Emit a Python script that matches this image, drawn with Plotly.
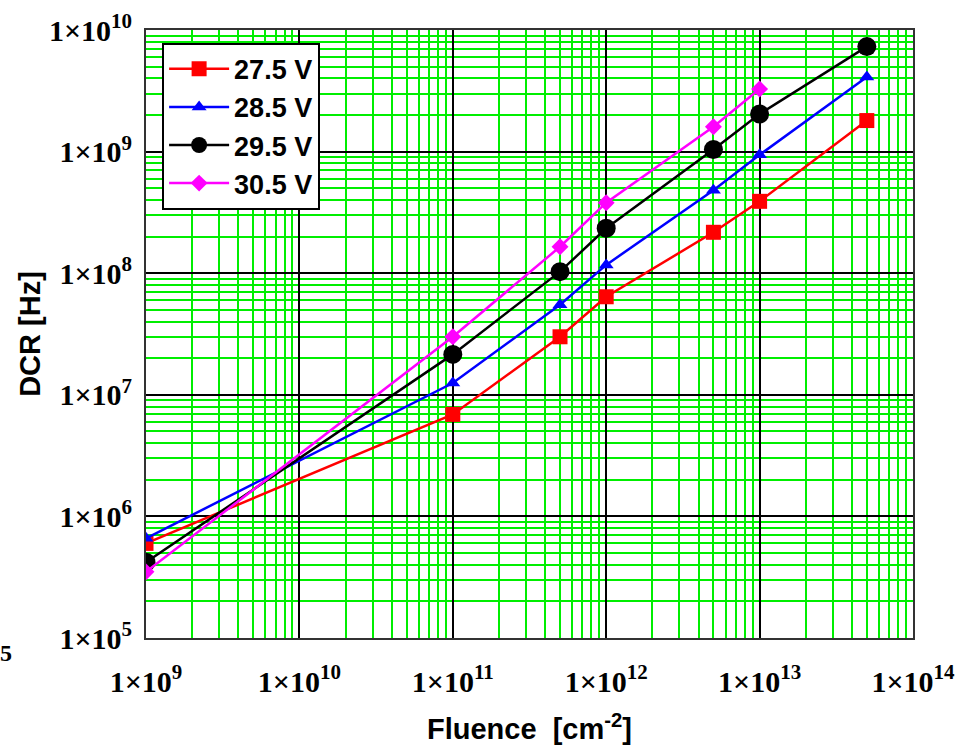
import plotly.graph_objects as go

# Fluence points [cm^-2]
fluence = [1e9, 1e11, 5e11, 1e12, 5e12, 1e13, 5e13]
fluence_305 = [1e9, 1e11, 5e11, 1e12, 5e12, 1e13]

# Dark count rate [Hz] per bias voltage
dcr_275 = [6.0e5, 6.9e6, 3.0e7, 6.4e7, 2.17e8, 3.9e8, 1.8e9]
dcr_285 = [6.6e5, 1.25e7, 5.5e7, 1.17e8, 4.8e8, 9.4e8, 4.1e9]
dcr_295 = [4.2e5, 2.15e7, 1.03e8, 2.34e8, 1.04e9, 2.04e9, 7.3e9]
dcr_305 = [3.5e5, 3.0e7, 1.65e8, 3.8e8, 1.6e9, 3.27e9]

x_exponents = [9, 10, 11, 12, 13, 14]
y_exponents = [5, 6, 7, 8, 9, 10]


def sci_label(e):
    return "1×10<sup>%d</sup>" % e


series = [
    ("27.5 V", fluence, dcr_275, "#ff0000", "square", 15),
    ("28.5 V", fluence, dcr_285, "#0000ff", "triangle-up", 13),
    ("29.5 V", fluence, dcr_295, "#000000", "circle", 19),
    ("30.5 V", fluence_305, dcr_305, "#ff00ff", "diamond", 13),
]

fig = go.Figure()
for name, xs, ys, color, symbol, size in series:
    fig.add_trace(go.Scatter(
        x=xs, y=ys, name=name, mode="lines+markers", legendgroup=name,
        line=dict(color=color, width=2.5),
        marker=dict(color=color, symbol=symbol, size=size),
    ))

tick_font = dict(family="Liberation Serif", size=30, color="black", weight="bold")
title_font = dict(family="Liberation Sans", size=29, color="black", weight="bold")

common = dict(
    type="log", automargin=False,
    showline=True, mirror=True, linecolor="#333333", linewidth=2,
    showgrid=True, gridcolor="#000000", gridwidth=1.5,
    minor=dict(showgrid=True, gridcolor="#00ee00", gridwidth=1.5, dtick="D1", ticks=""),
    ticks="", tickfont=tick_font, zeroline=False,
)

fig.update_xaxes(
    range=[9, 14],
    tickvals=[10 ** e for e in x_exponents],
    ticktext=[sci_label(e) for e in x_exponents],
    ticklabelstandoff=16,
    title=dict(text="Fluence  [cm<sup>-2</sup>]", font=title_font, standoff=22),
    **common,
)
fig.update_yaxes(
    range=[5, 10],
    tickvals=[10 ** e for e in y_exponents],
    ticktext=[sci_label(e) for e in y_exponents],
    ticklabelstandoff=6,
    title=dict(text="DCR [Hz]", font=title_font, standoff=0),
    **common,
)

fig.update_layout(
    width=979, height=747,
    margin=dict(l=146, r=66, t=30, b=109),
    paper_bgcolor="white", plot_bgcolor="white",
    showlegend=True,
    legend=dict(
        x=0.021, y=0.979, xanchor="left", yanchor="top",
        bgcolor="white", bordercolor="black", borderwidth=2,
        font=dict(family="Liberation Sans", size=27, color="black", weight="bold"),
        traceorder="grouped", tracegroupgap=0, itemwidth=60,
    ),
)

fig.add_annotation(
    text="5", xref="paper", yref="paper", x=-0.183, y=-0.025,
    xanchor="center", yanchor="middle", showarrow=False,
    font=dict(family="Liberation Serif", size=24, color="black", weight="bold"),
)

fig.write_html("out.html")
